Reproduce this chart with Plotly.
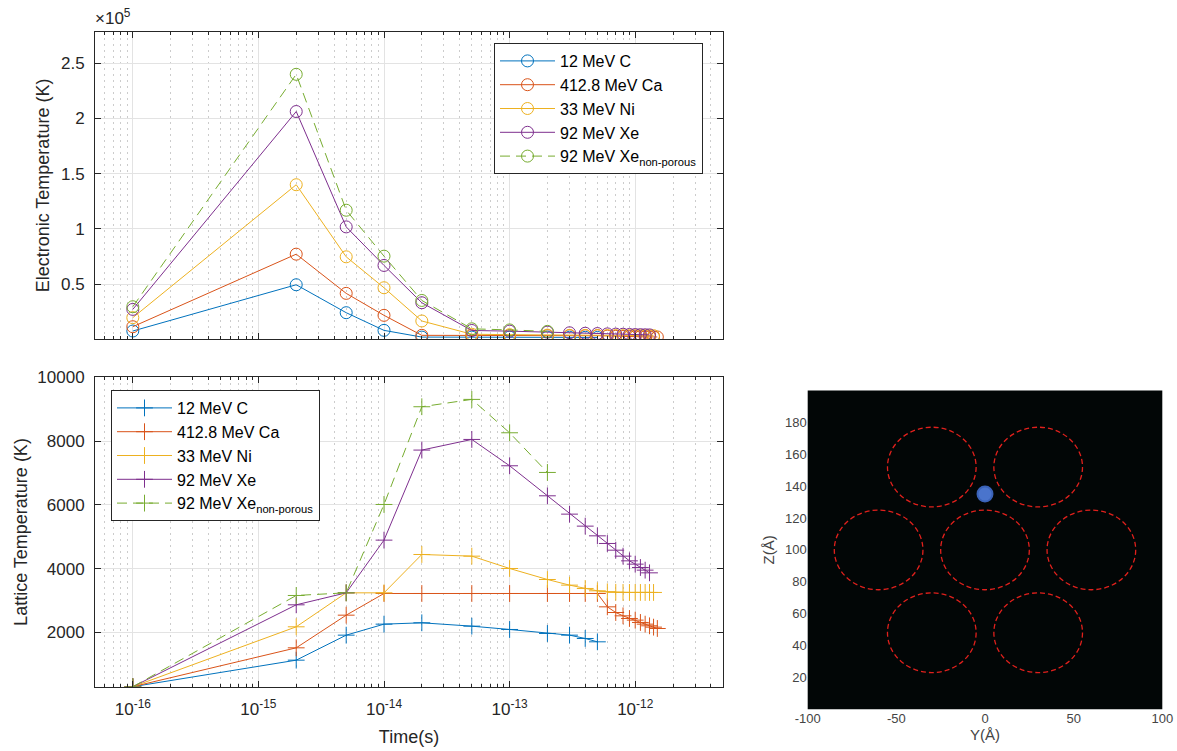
import plotly.graph_objects as go

# ---- time grid (s) ----
time_pts = [1e-16, 2e-15, 5e-15, 1e-14, 2e-14, 5e-14, 1e-13, 2e-13, 3e-13, 4e-13,
            5e-13, 6e-13, 7e-13, 8e-13, 9e-13, 1e-12, 1.1e-12, 1.2e-12, 1.3e-12,
            1.4e-12, 1.5e-12]

series_names = ["12 MeV C", "412.8 MeV Ca", "33 MeV Ni", "92 MeV Xe",
                "92 MeV Xe<sub>non-porous</sub>"]
series_colors = ["#0072BD", "#D95319", "#EDB120", "#7E2F8E", "#77AC30"]
series_dash = ["solid", "solid", "solid", "solid", "10px,6px"]

# ---- electronic temperature (K) ----
te_c = [7500, 49400, 24100, 8100, 2000, 2000, 2000, 2000, 1900, 1800, 1700]
te_ca = [11400, 77100, 41600, 21700, 3600, 3300, 3300, 3300, 3300, 3300, 3300,
         2900, 2700, 2600, 2500, 2400, 2300, 2300, 2200, 2200, 2100]
te_ni = [19600, 140000, 74700, 46700, 16600, 4600, 4200, 3800, 3600, 3500, 3400,
         3400, 3400, 3300, 3300, 3300, 3300, 3300, 3300, 3300]
te_xe = [27100, 206300, 101800, 66900, 33100, 8000, 7400, 6500, 5900, 5500, 5200,
         4900, 4700, 4600, 4400, 4300, 4200, 4100, 4000]
te_xe_np = [29500, 240000, 116900, 75300, 35200, 9500, 8500, 7200]

# ---- lattice temperature (K) ----
tl_c = [300, 1132, 1916, 2261, 2303, 2198, 2094, 1969, 1916, 1812, 1707]
tl_ca = [300, 1519, 2543, 3222, 3222, 3222, 3222, 3222, 3222, 3222, 3222,
         2804, 2626, 2522, 2439, 2387, 2314, 2261, 2209, 2167, 2125]
tl_ni = [300, 2178, 3243, 3243, 4445, 4393, 4006, 3661, 3484, 3380, 3306,
         3275, 3260, 3255, 3255, 3255, 3255, 3255, 3255, 3255]
tl_xe = [300, 2867, 3243, 4895, 7718, 8052, 7226, 6285, 5710, 5334, 5030,
         4790, 4580, 4393, 4246, 4142, 4037, 3954, 3870]
tl_xe_np = [300, 3160, 3243, 6013, 9077, 9307, 8261, 7017]

# ---- axis ticks ----
time_tickvals = [1e-16, 1e-15, 1e-14, 1e-13, 1e-12]
time_ticktext = ["10<sup>-16</sup>", "10<sup>-15</sup>", "10<sup>-14</sup>",
                 "10<sup>-13</sup>", "10<sup>-12</sup>"]
te_tickvals = [50000, 100000, 150000, 200000, 250000]
te_ticktext = ["0.5", "1", "1.5", "2", "2.5"]
tl_tickvals = [2000, 4000, 6000, 8000, 10000]
tl_ticktext = ["2000", "4000", "6000", "8000", "10000"]
map_y_ticks = [-100, -50, 0, 50, 100]
map_y_text = ["-100", "-50", "0", "50", "100"]
map_z_ticks = [20, 40, 60, 80, 100, 120, 140, 160, 180]

# ---- pore cross-section (Angstrom) ----
pore_cy = [-60, 0, 60, -30, 30, -30, 30]
pore_cz = [100, 100, 100, 151.96, 151.96, 48.04, 48.04]
pore_radius = 25
ion_y = [0]
ion_z = [135]

FONT = "Liberation Sans, Arial, Helvetica, sans-serif"
AX_COLOR = "#262626"
GRID = "#e3e3e3"
MINOR_GRID = "#cccccc"

fig = go.Figure()

te_all = [te_c, te_ca, te_ni, te_xe, te_xe_np]
tl_all = [tl_c, tl_ca, tl_ni, tl_xe, tl_xe_np]

for name, col, dash, te in zip(series_names, series_colors, series_dash, te_all):
    fig.add_trace(go.Scatter(
        x=time_pts[:len(te)], y=te, name=name, mode="lines+markers",
        line=dict(color=col, width=1, dash=dash),
        marker=dict(symbol="circle-open", size=12, color=col, line=dict(width=1, color=col)),
        xaxis="x", yaxis="y", legend="legend"))

for name, col, dash, tl in zip(series_names, series_colors, series_dash, tl_all):
    fig.add_trace(go.Scatter(
        x=time_pts[:len(tl)], y=tl, name=name, mode="lines+markers",
        line=dict(color=col, width=1, dash=dash),
        marker=dict(symbol="cross-thin", size=12, color=col, line=dict(width=1, color=col)),
        xaxis="x2", yaxis="y2", legend="legend2"))

# ion position in the pore array
fig.add_trace(go.Scatter(
    x=ion_y, y=ion_z, mode="markers", showlegend=False,
    marker=dict(size=15, color="#4a74cc", line=dict(width=2, color="#3a62b8")),
    xaxis="x3", yaxis="y3"))

for cy, cz in zip(pore_cy, pore_cz):
    fig.add_shape(type="circle", xref="x3", yref="y3",
                  x0=cy - pore_radius, x1=cy + pore_radius,
                  y0=cz - pore_radius, y1=cz + pore_radius,
                  line=dict(color="#e0201c", width=1.3, dash="5px,3px"))

log_minor = dict(dtick="D1", ticks="inside", ticklen=3, tickcolor=AX_COLOR, showgrid=True,
                 gridcolor=MINOR_GRID, griddash="2px,4px", gridwidth=1)

common_x = dict(type="log", range=[-16.30103, -11.30103], showline=True, linecolor=AX_COLOR,
                linewidth=1, mirror="ticks", ticks="inside", ticklen=6, tickcolor=AX_COLOR,
                tickvals=time_tickvals, showgrid=True, gridcolor=GRID, gridwidth=1,
                zeroline=False, minor=log_minor, automargin=False)

common_y = dict(showline=True, linecolor=AX_COLOR, linewidth=1, mirror="ticks",
                ticks="inside", ticklen=6, tickcolor=AX_COLOR,
                showgrid=True, gridcolor=GRID, zeroline=False,
                tickfont=dict(size=17), ticklabelstandoff=6, automargin=False)

fig.update_layout(
    width=1177, height=751,
    margin=dict(l=0, r=0, t=0, b=0),
    paper_bgcolor="white", plot_bgcolor="white",
    font=dict(family=FONT, color=AX_COLOR),
    xaxis=dict(domain=[95 / 1177, 723 / 1177], anchor="y", showticklabels=False, **common_x),
    yaxis=dict(domain=[1 - 339.3 / 751, 1 - 31.7 / 751], anchor="x",
               range=[0, 278600], tickvals=te_tickvals, ticktext=te_ticktext,
               title=dict(text="Electronic Temperature (K)", font=dict(size=18), standoff=6),
               **common_y),
    xaxis2=dict(domain=[95 / 1177, 723 / 1177], anchor="y2", ticktext=time_ticktext,
                tickfont=dict(size=17), ticklabelstandoff=7,
                title=dict(text="Time(s)", font=dict(size=18), standoff=12), **common_x),
    yaxis2=dict(domain=[1 - 686.7 / 751, 1 - 377.3 / 751], anchor="x2",
                range=[300, 10000], tickvals=tl_tickvals, ticktext=tl_ticktext,
                title=dict(text="Lattice Temperature (K)", font=dict(size=18), standoff=5),
                **common_y),
    xaxis3=dict(domain=[807.7 / 1177, 1162.3 / 1177], anchor="y3", range=[-100, 100],
                tickvals=map_y_ticks, ticktext=map_y_text, ticks="", showgrid=False,
                zeroline=False, showline=False, automargin=False,
                tickfont=dict(size=13, color="#444444"),
                title=dict(text="Y(Å)", font=dict(size=15, color="#444444"), standoff=2)),
    yaxis3=dict(domain=[1 - 709.3 / 751, 1 - 390.5 / 751], anchor="x3", range=[0, 200],
                tickvals=map_z_ticks, ticks="", automargin=False,
                showgrid=False, zeroline=False, showline=False,
                tickfont=dict(size=13, color="#444444"),
                title=dict(text="Z(Å)", font=dict(size=15, color="#444444"), standoff=6)),
    legend=dict(x=494 / 1177, y=1 - 43 / 751, xanchor="left", yanchor="top",
                bgcolor="white", bordercolor=AX_COLOR, borderwidth=1,
                font=dict(size=16, family=FONT, color="#000000"), itemwidth=55,
                tracegroupgap=0),
    legend2=dict(x=111 / 1177, y=1 - 390 / 751, xanchor="left", yanchor="top",
                 bgcolor="white", bordercolor=AX_COLOR, borderwidth=1,
                 font=dict(size=16, family=FONT, color="#000000"), itemwidth=55,
                 tracegroupgap=0),
    annotations=[dict(text="×10<sup>5</sup>", xref="paper", yref="paper",
                      x=93 / 1177, y=1 - 30 / 751, xanchor="left", yanchor="bottom",
                      showarrow=False, font=dict(size=17, color=AX_COLOR))],
)

# dark background of the cross-section map
fig.add_shape(type="rect", xref="x3 domain", yref="y3 domain", x0=0, x1=1, y0=0, y1=1,
              fillcolor="#020606", line=dict(width=0), layer="below")

fig.write_html("out.html")
